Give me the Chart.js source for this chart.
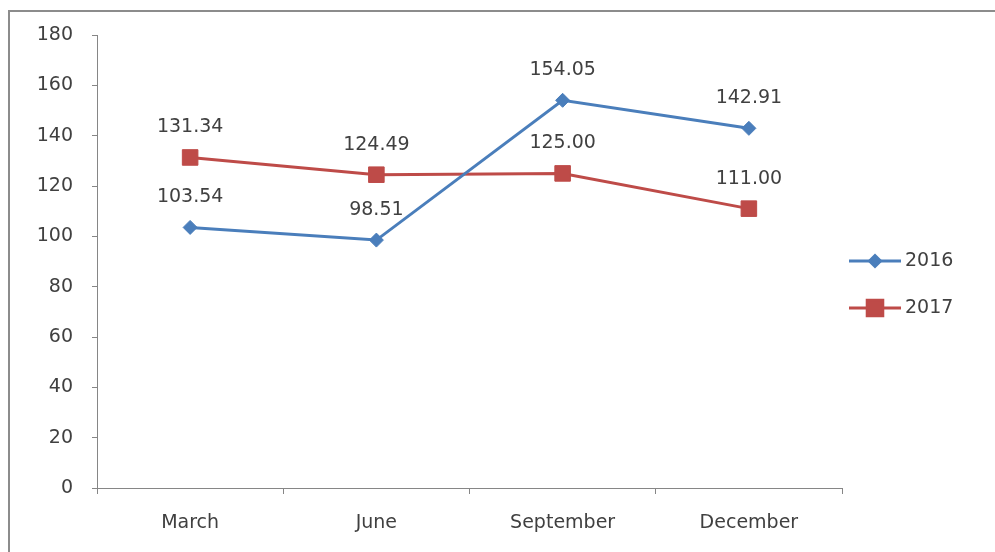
<!DOCTYPE html>
<html>
<head>
<meta charset="utf-8">
<script src="https://cdn.jsdelivr.net/npm/chart.js@4/dist/chart.umd.min.js"></script>
<style>
  html, body { margin: 0; padding: 0; background: #fff; }
  #wrap { width: 995px; height: 552px; position: relative; }
</style>
</head>
<body>
<div id="wrap"><canvas id="chart" width="995" height="552"></canvas></div>
<script>
// --- data ---
const quarters = ['March', 'June', 'September', 'December'];
const series2016 = [103.54, 98.51, 154.05, 142.91];
const series2017 = [131.34, 124.49, 125.00, 111.00];
const yMin = 0, yMax = 180, yStep = 20;

const FONT = 'DejaVu Sans';
const TEXT = '#404040';
const AXIS = '#868686';

// outer chart frame (Excel-style border, cut off at right/bottom)
const framePlugin = {
  id: 'frame',
  beforeDraw(chart) {
    const { ctx, width, height } = chart;
    ctx.save();
    ctx.fillStyle = '#fff';
    ctx.fillRect(0, 0, width, height);
    ctx.strokeStyle = '#8c8c8c';
    ctx.lineWidth = 2;
    ctx.beginPath();
    ctx.moveTo(9, height);
    ctx.lineTo(9, 11);
    ctx.lineTo(width, 11);
    ctx.stroke();
    ctx.restore();
  }
};

// value labels above each marker
const valueLabels = {
  id: 'valueLabels',
  afterDatasetsDraw(chart) {
    const { ctx } = chart;
    ctx.save();
    ctx.font = `19px "${FONT}"`;
    ctx.fillStyle = TEXT;
    ctx.textAlign = 'center';
    ctx.textBaseline = 'middle';
    chart.data.datasets.forEach((ds, i) => {
      chart.getDatasetMeta(i).data.forEach((pt, j) => {
        ctx.fillText(ds.data[j].toFixed(2), pt.x, pt.y - 30);
      });
    });
    ctx.restore();
  }
};

// legend on the right: line + marker + label
const sideLegend = {
  id: 'sideLegend',
  afterDraw(chart) {
    const { ctx, chartArea } = chart;
    const x0 = chartArea.right + 7;
    const lineW = 52;
    ctx.save();
    chart.data.datasets.forEach((ds, i) => {
      const y = 261 + i * 47;
      ctx.strokeStyle = ds.borderColor;
      ctx.lineWidth = 3;
      ctx.beginPath();
      ctx.moveTo(x0, y);
      ctx.lineTo(x0 + lineW, y);
      ctx.stroke();
      ctx.fillStyle = ds.backgroundColor;
      ctx.strokeStyle = ds.borderColor;
      Chart.helpers.drawPoint(ctx, {
        pointStyle: ds.pointStyle,
        radius: ds.pointStyle === 'rectRot' ? 5.5 : ds.pointRadius,
        rotation: 0,
        borderWidth: 1
      }, x0 + lineW / 2, y);
      ctx.font = `19px "${FONT}"`;
      ctx.fillStyle = TEXT;
      ctx.textAlign = 'left';
      ctx.textBaseline = 'middle';
      ctx.fillText(ds.label, x0 + lineW + 4, y);
    });
    ctx.restore();
  }
};

new Chart(document.getElementById('chart'), {
  type: 'line',
  data: {
    labels: quarters,
    datasets: [
      {
        label: '2016',
        data: series2016,
        borderColor: '#4a7ebb',
        backgroundColor: '#4a7ebb',
        borderWidth: 3,
        pointStyle: 'rectRot',
        pointRadius: 7,
        pointBorderWidth: 1,
        tension: 0
      },
      {
        label: '2017',
        data: series2017,
        borderColor: '#be4b48',
        backgroundColor: '#be4b48',
        borderWidth: 3,
        pointStyle: 'rect',
        pointRadius: 11,
        pointBorderWidth: 1,
        tension: 0
      }
    ]
  },
  options: {
    responsive: false,
    devicePixelRatio: 1,
    animation: false,
    layout: { padding: { top: 35, right: 153, left: 0, bottom: 0 } },
    plugins: {
      legend: { display: false },
      tooltip: { enabled: false }
    },
    scales: {
      x: {
        type: 'category',
        offset: true,
        afterFit(scale) { scale.height = 64; },
        grid: { offset: true, drawOnChartArea: false, drawTicks: true, tickLength: 6, color: AXIS },
        border: { color: AXIS, width: 1 },
        ticks: { color: TEXT, font: { family: FONT, size: 19 }, padding: 18, maxRotation: 0 }
      },
      y: {
        min: yMin,
        max: yMax,
        afterFit(scale) { scale.width = 97; },
        grid: { drawOnChartArea: false, drawTicks: true, tickLength: 5, color: AXIS },
        border: { color: AXIS, width: 1 },
        ticks: { stepSize: yStep, color: TEXT, font: { family: FONT, size: 19 }, padding: 19 }
      }
    }
  },
  plugins: [framePlugin, valueLabels, sideLegend]
});
</script>
</body>
</html>
